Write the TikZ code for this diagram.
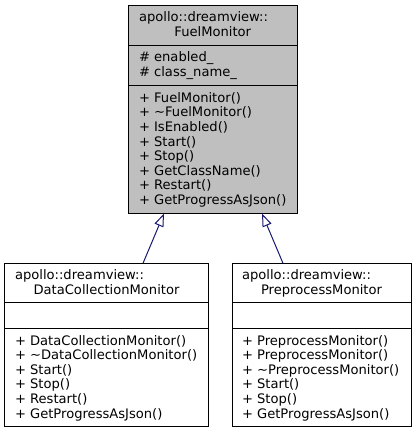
\documentclass[tikz,border=0pt]{standalone}
\usepackage{fontspec}
\setmainfont{DejaVu Sans}
\usetikzlibrary{arrows.meta,calc}
\definecolor{boxgrey}{HTML}{BFBFBF}
\definecolor{edgeblue}{HTML}{191970}
\tikzset{
  classbox/.style={draw=black, line width=1bp, inner sep=0pt, outer sep=0pt},
  sep/.style={draw=black, line width=1bp},
  txt/.style={inner sep=0pt, outer sep=0pt, anchor=base west, font=\fontsize{13.1bp}{14.6bp}\selectfont},
  ctxt/.style={txt, anchor=base},
  inh/.style={draw=edgeblue, line width=1bp, -{Triangle[open, length=13bp, width=9.5bp, fill=white]}}
}
\begin{document}
\begin{tikzpicture}[x=1bp, y=-1bp]
\useasboundingbox (0,0) rectangle (416,433);
% Parent class
\node[classbox, fill=boxgrey, minimum width=168.5bp, minimum height=208bp] (fuel) at (212.75,109.5) {};
\draw[sep] (128.5,45.5) -- (297,45.5);
\draw[sep] (128.5,86) -- (297,86);
\node[txt] (f1) at (139,22) {apollo::dreamview::};
\node[ctxt] (f2) at (212.75,36.6) {FuelMonitor};
\node[txt] (fa1) at (139,62) {\# enabled\_};
\node[txt] (fa2) at (139,76.6) {\# class\_name\_};
\node[txt] (fm1) at (139,102.3) {+ FuelMonitor()};
\node[txt] (fm2) at (139,116.9) {+ \textasciitilde FuelMonitor()};
\node[txt] (fm3) at (139,131.5) {+ IsEnabled()};
\node[txt] (fm4) at (139,146.1) {+ Start()};
\node[txt] (fm5) at (139,160.7) {+ Stop()};
\node[txt] (fm6) at (139,175.3) {+ GetClassName()};
\node[txt] (fm7) at (139,189.9) {+ Restart()};
\node[txt] (fm8) at (139,204.5) {+ GetProgressAsJson()};
% DataCollectionMonitor
\node[classbox, fill=white, minimum width=203bp, minimum height=163.5bp] (dcm) at (106.5,345.05) {};
\draw[sep] (5,302.5) -- (208,302.5);
\draw[sep] (5,328.3) -- (208,328.3);
\node[txt] (d1) at (15,279.8) {apollo::dreamview::};
\node[ctxt] (d2) at (106.5,294.4) {DataCollectionMonitor};
\node[txt] (dm1) at (15,345) {+ DataCollectionMonitor()};
\node[txt] (dm2) at (15,359.6) {+ \textasciitilde DataCollectionMonitor()};
\node[txt] (dm3) at (15,374.2) {+ Start()};
\node[txt] (dm4) at (15,388.8) {+ Stop()};
\node[txt] (dm5) at (15,403.4) {+ Restart()};
\node[txt] (dm6) at (15,418) {+ GetProgressAsJson()};
% PreprocessMonitor
\node[classbox, fill=white, minimum width=179bp, minimum height=163.5bp] (pre) at (321.5,345.05) {};
\draw[sep] (232,302.5) -- (411,302.5);
\draw[sep] (232,328.3) -- (411,328.3);
\node[txt] (p1) at (242,279.8) {apollo::dreamview::};
\node[ctxt] (p2) at (321.5,294.4) {PreprocessMonitor};
\node[txt] (pm1) at (242,345) {+ PreprocessMonitor()};
\node[txt] (pm2) at (242,359.6) {+ PreprocessMonitor()};
\node[txt] (pm3) at (242,374.2) {+ \textasciitilde PreprocessMonitor()};
\node[txt] (pm4) at (242,388.8) {+ Start()};
\node[txt] (pm5) at (242,403.4) {+ Stop()};
\node[txt] (pm6) at (242,418) {+ GetProgressAsJson()};
% Inheritance
\draw[inh] ($(dcm.north west)+(138,0)$) -- ($(fuel.south west)+(35.5,0)$);
\draw[inh] ($(pre.north west)+(51,0)$) -- ($(fuel.south west)+(133.5,0)$);
\end{tikzpicture}
\end{document}
